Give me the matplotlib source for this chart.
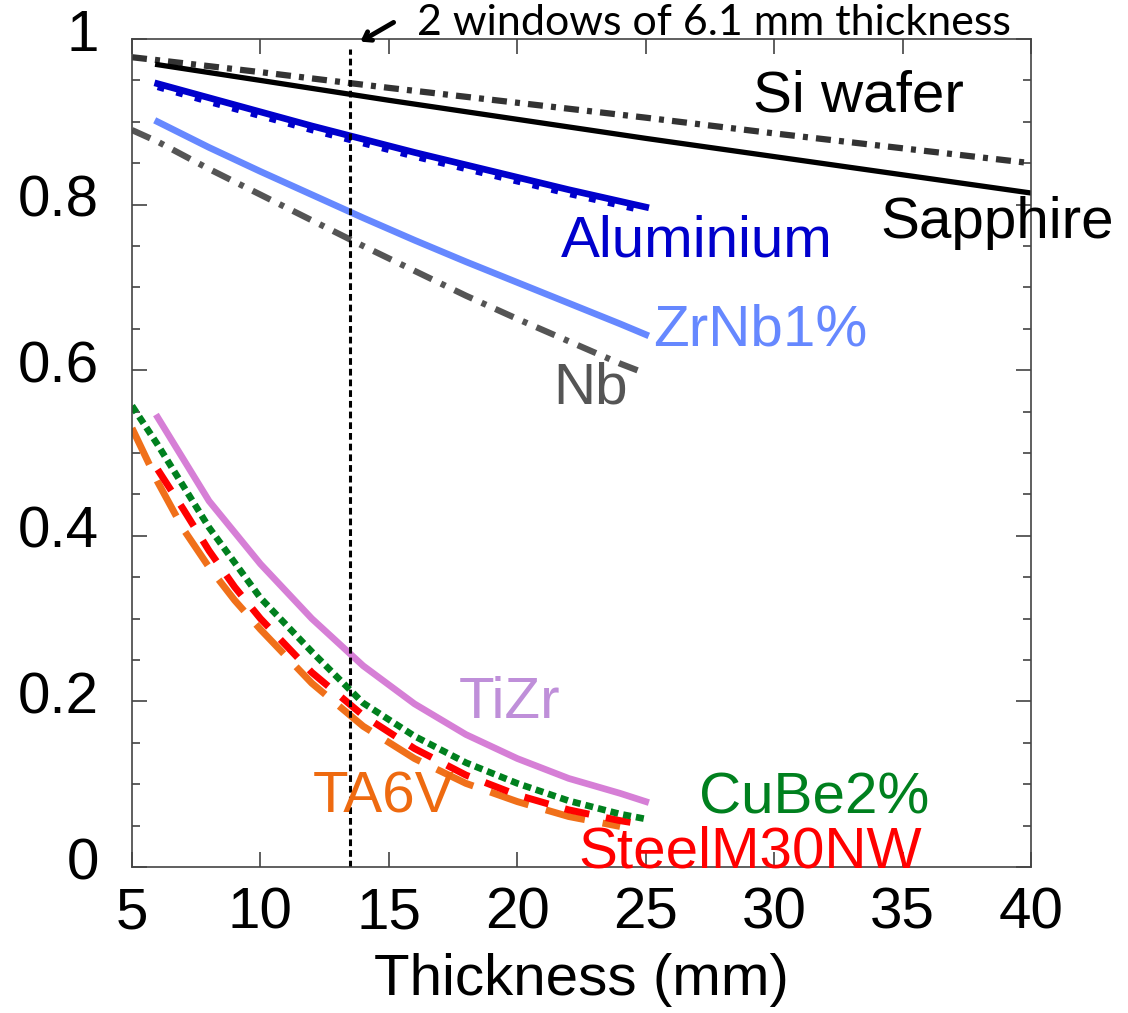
import matplotlib
matplotlib.use("Agg")
import matplotlib.pyplot as plt
from matplotlib.ticker import MultipleLocator, FormatStrFormatter
from matplotlib.transforms import ScaledTranslation

plt.rcParams["font.family"] = ["Liberation Sans", "DejaVu Sans"]

# -----------------------------
# Data (transmission vs thickness)
# -----------------------------
si_x = [5, 10, 15, 20, 25, 30, 35, 40]
si_y = [0.978, 0.960, 0.941, 0.923, 0.905, 0.886, 0.868, 0.850]

sapphire_x = [6, 10, 15, 20, 25, 30, 35, 40]
sapphire_y = [0.969, 0.950, 0.926, 0.903, 0.880, 0.858, 0.836, 0.814]

al_x = [6, 8, 10, 12, 14, 16, 18, 20, 22, 24, 25]
al_y = [0.946, 0.929, 0.912, 0.895, 0.879, 0.863, 0.848, 0.833, 0.818, 0.804, 0.797]
al_dot_y = [0.942, 0.924, 0.907, 0.890, 0.874, 0.858, 0.843, 0.828, 0.813, 0.799, 0.792]

zrnb_x = [6, 8, 10, 12, 14, 16, 18, 20, 22, 24, 25]
zrnb_y = [0.900, 0.869, 0.840, 0.812, 0.784, 0.757, 0.731, 0.706, 0.681, 0.656, 0.643]

nb_x = [5, 6, 8, 10, 12, 14, 16, 18, 20, 22, 24, 25]
nb_y = [0.890, 0.876, 0.843, 0.812, 0.781, 0.750, 0.720, 0.690, 0.662, 0.635, 0.608, 0.596]

tizr_x = [6, 8, 10, 12, 14, 16, 18, 20, 22, 24, 25]
tizr_y = [0.543, 0.442, 0.366, 0.300, 0.243, 0.197, 0.160, 0.131, 0.107, 0.089, 0.079]

cube_x = [5, 6, 8, 10, 12, 14, 16, 18, 20, 22, 24, 25]
cube_y = [0.557, 0.510, 0.410, 0.325, 0.260, 0.198, 0.158, 0.126, 0.101, 0.080, 0.064, 0.058]

steel_x = [6, 7, 8, 9, 10, 12, 14, 16, 18, 20, 22, 24, 25]
steel_y = [0.480, 0.432, 0.382, 0.338, 0.300, 0.235, 0.183, 0.143, 0.111, 0.087, 0.069, 0.056, 0.051]

ta6v_x = [5, 6, 7, 8, 9, 10, 12, 14, 16, 18, 20, 22, 24]
ta6v_y = [0.530, 0.465, 0.408, 0.362, 0.322, 0.287, 0.222, 0.170, 0.131, 0.101, 0.079, 0.061, 0.049]

window_x = 13.5
window_top = 0.988

y_ticks = [0, 0.2, 0.4, 0.6, 0.8, 1.0]
x_ticks = [5, 10, 15, 20, 25, 30, 35, 40]

# -----------------------------
# Plot
# -----------------------------
fig = plt.figure(figsize=(11.28, 10.13), dpi=100)
ax = fig.add_axes([132 / 1128, 146 / 1013, 899 / 1128, 828 / 1013])

ax.plot(si_x, si_y, color="#333333", lw=4.5, dashes=(2.4, 1.3, 0.8, 1.3))
ax.plot(sapphire_x, sapphire_y, color="black", lw=3.8)
ax.plot(al_x, al_dot_y, color="#0000cc", lw=4.5, dashes=(1.1, 2.0))
ax.plot(al_x, al_y, color="#0000cc", lw=4.8)
ax.plot(zrnb_x, zrnb_y, color="#6688ff", lw=4.8)
ax.plot(nb_x, nb_y, color="#555555", lw=4.5, dashes=(3.2, 1.6, 0.8, 1.6))
ax.plot(tizr_x, tizr_y, color="#d67fd6", lw=4.8)
ax.plot(ta6v_x, ta6v_y, color="#f0701a", lw=5, dashes=(5.8, 2.6))
ax.plot(steel_x, steel_y, color="#ff0000", lw=5, dashes=(3.6, 2.45))
ax.plot(cube_x, cube_y, color="#00801e", lw=4.8, dashes=(1.2, 0.75))

ax.plot([window_x, window_x], [0, window_top], color="black", lw=2.2, dashes=(2.2, 1.3))

# Curve labels
lbl = dict(fontsize=42, ha="left", va="baseline")
ax.text(29.17, 0.912, "Si wafer", color="black", **lbl)
ax.text(34.15, 0.760, "Sapphire", color="black", **lbl)
ax.text(21.68, 0.737, "Aluminium", color="#0000cc", **lbl)
ax.text(25.27, 0.630, "ZrNb1%", color="#6688ff", **lbl)
ax.text(21.41, 0.560, "Nb", color="#555555", **lbl)
ax.text(17.71, 0.180, "TiZr", color="#bf8fd9", **lbl)
ax.text(12.02, 0.066, "TA6V", color="#ee6a10", **lbl)
ax.text(27.06, 0.065, "CuBe2%", color="#00801e", **lbl)
ax.text(22.38, 0.000, "SteelM30NW", color="#ff0000", **lbl)

# Annotation above the axes
fig.text(417 / 1128, 1 - 35 / 1013, "2 windows of 6.1 mm thickness",
         fontsize=31, family=["Lato", "DejaVu Sans"], ha="left", va="baseline")
ax.annotate("", xy=(358, 1013 - 43), xycoords="figure pixels",
            xytext=(396, 1013 - 21), textcoords="figure pixels",
            arrowprops=dict(arrowstyle="->,head_length=0.5,head_width=0.35",
                            color="black", lw=3.5))

# -----------------------------
# Formatting
# -----------------------------
ax.set_xlim(5, 40)
ax.set_ylim(0, 1.0)
ax.set_xticks(x_ticks)
ax.set_yticks(y_ticks)
ax.yaxis.set_major_formatter(FormatStrFormatter("%g"))
ax.yaxis.set_minor_locator(MultipleLocator(0.05))
ax.tick_params(axis="both", which="both", direction="in", top=True, right=True,
               labelsize=42, width=1.1, color="#333333")
ax.tick_params(axis="both", which="major", length=10.8)
ax.tick_params(axis="both", which="minor", length=5.8)
ax.tick_params(axis="x", pad=14)
ax.tick_params(axis="y", pad=24)
for sp in ax.spines.values():
    sp.set_linewidth(1.2)
    sp.set_color("#444444")

# y labels sit a little above their ticks in the reference
shift = ScaledTranslation(0, 9 / 100, fig.dpi_scale_trans)
for t in ax.get_yticklabels():
    t.set_transform(t.get_transform() + shift)

ax.set_xlabel("Thickness (mm)", fontsize=42, labelpad=9)

fig.savefig("out.png", dpi=100)
plt.close(fig)
